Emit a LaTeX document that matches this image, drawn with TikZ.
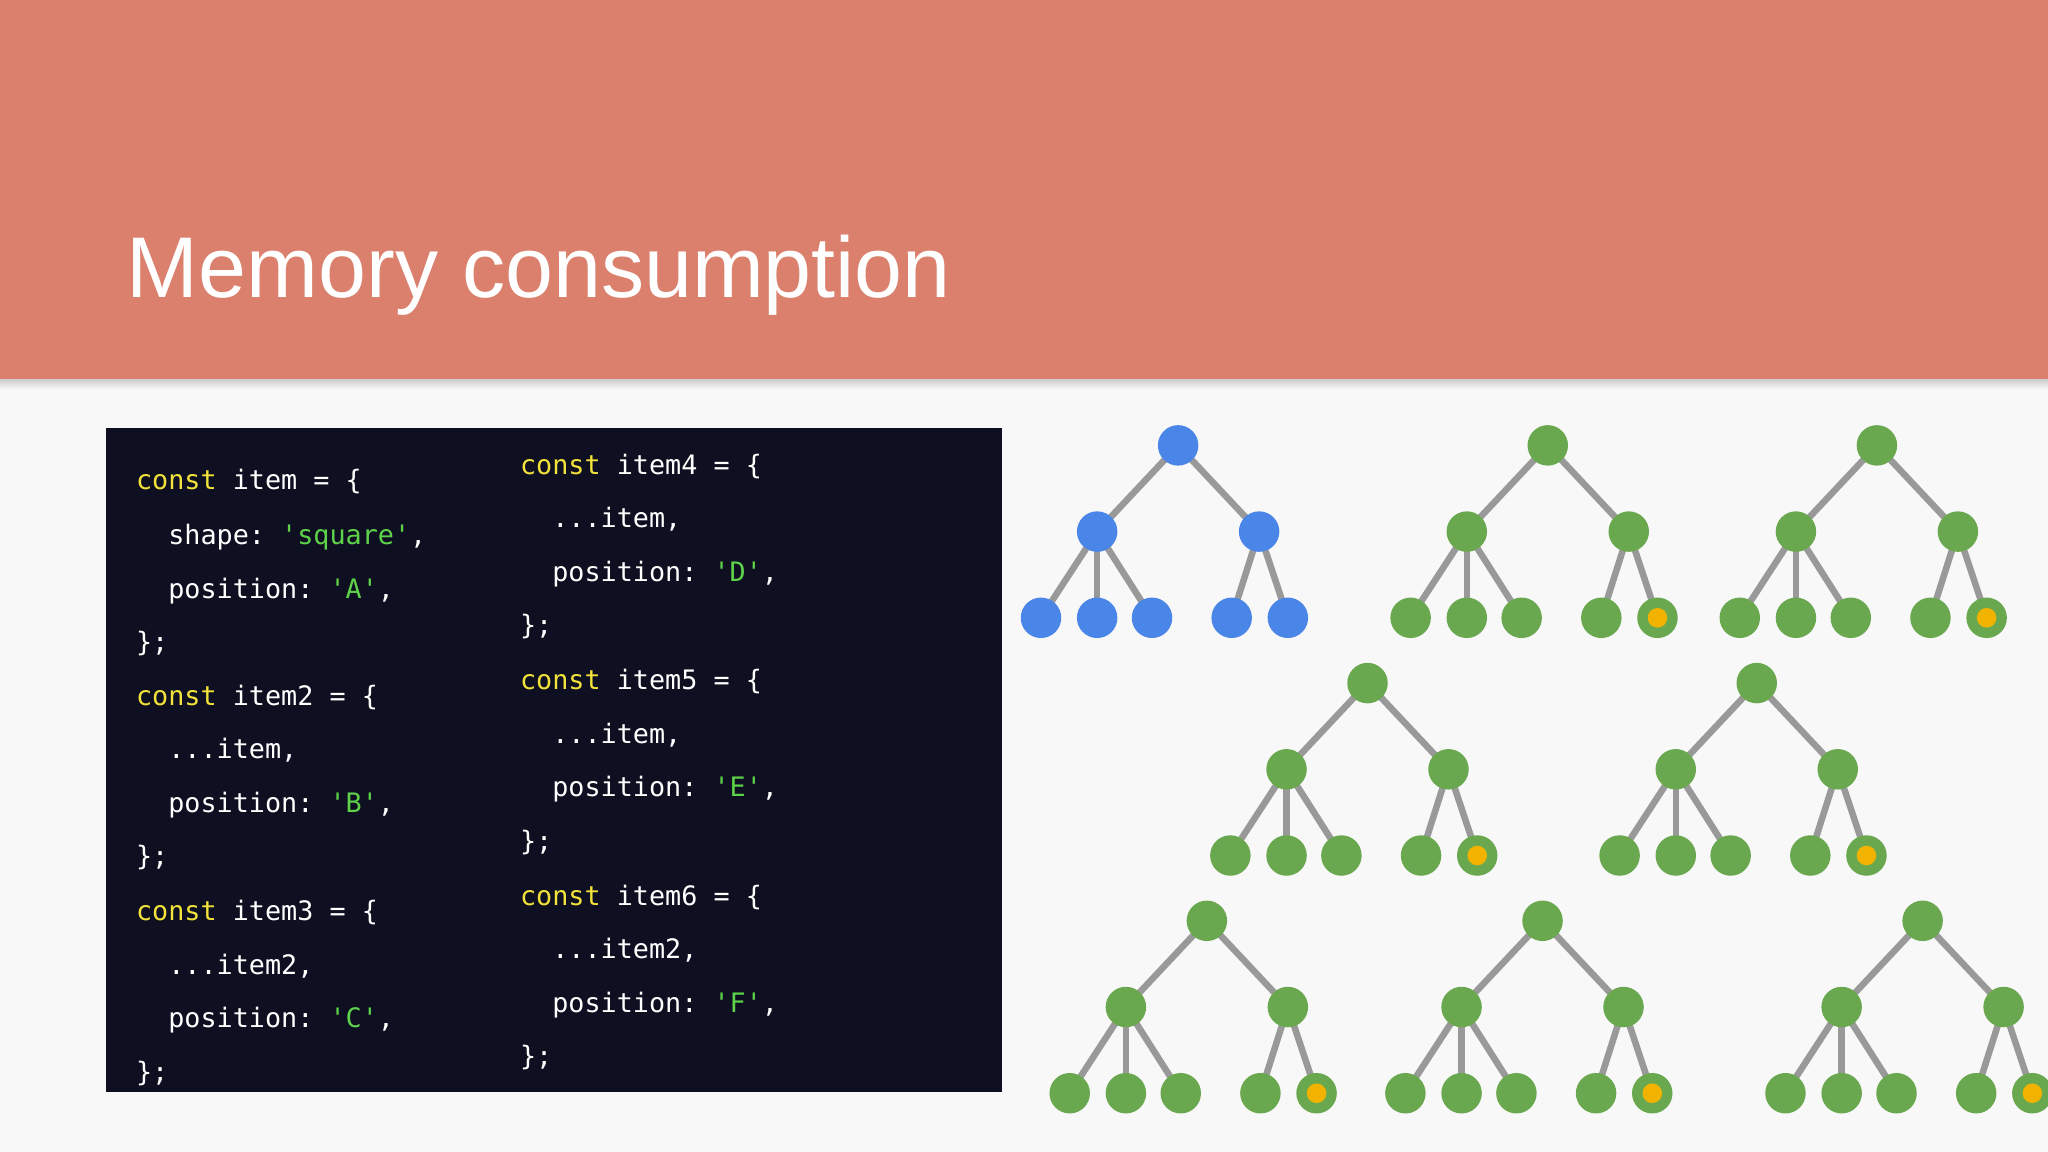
\documentclass[tikz,border=0pt]{standalone}
\usepackage{fontspec}
\setmainfont{Liberation Sans}
\setmonofont{DejaVu Sans Mono}
\definecolor{hdr}{HTML}{DB806C}
\definecolor{bg}{HTML}{F8F8F8}
\definecolor{codebg}{HTML}{0E1021}
\definecolor{kw}{HTML}{F2E23A}
\definecolor{str}{HTML}{5ED34A}
\definecolor{tblue}{HTML}{4A86E8}
\definecolor{tgreen}{HTML}{6AA84F}
\definecolor{tyel}{HTML}{F1B300}
\definecolor{edge}{HTML}{999999}
\tikzset{
  dot/.style={circle,inner sep=0pt,minimum size=31pt},
  ydot/.style={circle,inner sep=0pt,minimum size=15pt,fill=tyel},
  br/.style={draw=edge,line width=5pt},
  code/.style={anchor=base west,inner sep=0pt,text=white,font=\ttfamily\fontsize{20.5}{24}\selectfont}
}
\newcommand{\K}[1]{\textcolor{kw}{#1}}
\newcommand{\St}[1]{\textcolor{str}{#1}}
% name, x, y, colour, yellow(1/0)
\newcommand{\mytree}[5]{%
  \path (#2,#3) coordinate (#1r);
  \path[br] (#2,#3) -- ++(-62,66) coordinate (#1a);
  \path[br] (#2,#3) -- ++(62,66) coordinate (#1b);
  \path[br] (#1a) -- ++(-43,66) coordinate (#1a1);
  \path[br] (#1a) -- ++(0,66) coordinate (#1a2);
  \path[br] (#1a) -- ++(42,66) coordinate (#1a3);
  \path[br] (#1b) -- ++(-21,66) coordinate (#1b1);
  \path[br] (#1b) -- ++(22,66) coordinate (#1b2);
  \foreach \n in {r,a,b,a1,a2,a3,b1,b2}{\node[dot,fill=#4] (#1n\n) at (#1\n) {};}
  \ifnum#5=1 \node[ydot] (#1y) at (#1b2) {};\fi
}
\begin{document}
\begin{tikzpicture}[x=1pt,y=-1pt]
\useasboundingbox (0,0) rectangle (1568,882);
\clip (0,0) rectangle (1568,882);
\fill[bg] (0,0) rectangle (1568,882);
\shade[top color=black!25,bottom color=bg] (0,288) rectangle (1568,298);
\fill[hdr] (0,0) rectangle (1568,290);
\node[anchor=base west,inner sep=0pt,text=white,font=\fontsize{66}{70}\selectfont] (title) at (97,228) {Memory consumption};
\fill[codebg] (81,328) rectangle (767,836);
% left column
\node[code] (l1) at (104,375) {\K{const} item = \{};
\node[code] (l2) at (104,417) {~~shape: \St{'square'},};
\node[code] (l3) at (104,458) {~~position: \St{'A'},};
\node[code] (l4) at (104,499) {\};};
\node[code] (l5) at (104,540) {\K{const} item2 = \{};
\node[code] (l6) at (104,581) {~~...item,};
\node[code] (l7) at (104,622) {~~position: \St{'B'},};
\node[code] (l8) at (104,663) {\};};
\node[code] (l9) at (104,705) {\K{const} item3 = \{};
\node[code] (l10) at (104,746) {~~...item2,};
\node[code] (l11) at (104,787) {~~position: \St{'C'},};
\node[code] (l12) at (104,828) {\};};
% right column
\node[code] (r1) at (398,363) {\K{const} item4 = \{};
\node[code] (r2) at (398,404) {~~...item,};
\node[code] (r3) at (398,445) {~~position: \St{'D'},};
\node[code] (r4) at (398,486) {\};};
\node[code] (r5) at (398,528) {\K{const} item5 = \{};
\node[code] (r6) at (398,569) {~~...item,};
\node[code] (r7) at (398,610) {~~position: \St{'E'},};
\node[code] (r8) at (398,651) {\};};
\node[code] (r9) at (398,693) {\K{const} item6 = \{};
\node[code] (r10) at (398,734) {~~...item2,};
\node[code] (r11) at (398,775) {~~position: \St{'F'},};
\node[code] (r12) at (398,816) {\};};
% trees
\mytree{A}{902}{341}{tblue}{0}
\mytree{B}{1185}{341}{tgreen}{1}
\mytree{C}{1437}{341}{tgreen}{1}
\mytree{D}{1047}{523}{tgreen}{1}
\mytree{E}{1345}{523}{tgreen}{1}
\mytree{F}{924}{705}{tgreen}{1}
\mytree{G}{1181}{705}{tgreen}{1}
\mytree{H}{1472}{705}{tgreen}{1}
\end{tikzpicture}
\end{document}
